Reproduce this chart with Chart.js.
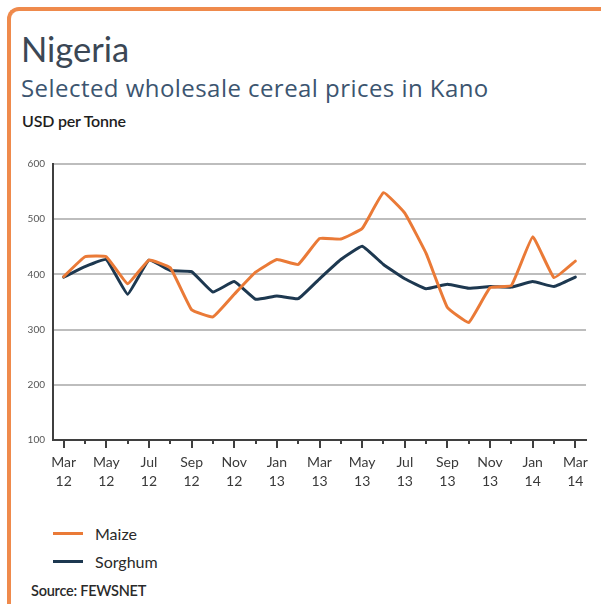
<!DOCTYPE html>
<html>
<head>
<meta charset="utf-8">
<script src="https://cdn.jsdelivr.net/npm/chart.js@4/dist/chart.umd.min.js"></script>
<style>
  html, body { margin: 0; padding: 0; background: #fff; }
  body { width: 601px; height: 607px; position: relative; overflow: hidden; font-family: Lato, "Open Sans", sans-serif; }
  .frame {
    position: absolute; left: 7px; top: 7px; width: 620px; height: 597px;
    border-top: 4px solid #ef8a4c; border-left: 4px solid #ef8a4c;
    border-radius: 12px 0 0 0; box-sizing: border-box;
  }
  .title { position: absolute; left: 21px; top: 32px; font-size: 34.5px; color: #3b4755; line-height: 1; }
  .subtitle { position: absolute; left: 21px; top: 75.5px; font-family: "Open Sans", sans-serif; font-size: 24px; letter-spacing: 0.45px; color: #3c5570; line-height: 1; white-space: nowrap; }
  .unit { position: absolute; left: 22px; top: 113px; font-size: 16px; color: #1e1e1e; line-height: 1; font-weight: 600; letter-spacing: -0.2px; }
  #chart { position: absolute; left: 0; top: 150px; }
  .legend { position: absolute; left: 53px; top: 519px; font-size: 16px; color: #2a2a2a; }
  .legend div { height: 28px; display: flex; align-items: center; }
  .legend span.sw { display: inline-block; width: 30px; height: 3px; margin-right: 12px; }
  .source { position: absolute; left: 31px; top: 583.5px; font-size: 14.5px; color: #2a2a2a; font-weight: 600; letter-spacing: -0.25px; line-height: 1; }
</style>
</head>
<body>
<div class="frame"></div>
<div class="title">Nigeria</div>
<div class="subtitle">Selected wholesale cereal prices in Kano</div>
<div class="unit">USD per Tonne</div>
<canvas id="chart" width="601" height="350"></canvas>
<div class="legend" id="legend"></div>
<div class="source">Source: FEWSNET</div>
<script>
// Monthly wholesale prices, Kano market (USD per tonne), Mar 2012 – Mar 2014
const months = ["Mar","Apr","May","Jun","Jul","Aug","Sep","Oct","Nov","Dec",
                "Jan","Feb","Mar","Apr","May","Jun","Jul","Aug","Sep","Oct","Nov","Dec",
                "Jan","Feb","Mar"];
const years = ["12","12","12","12","12","12","12","12","12","12",
               "13","13","13","13","13","13","13","13","13","13","13","13",
               "14","14","14"];
const maize = [396, 432, 432, 383, 426, 412, 336, 323, 364, 404,
               427, 418, 465, 464, 483, 548, 511, 438, 340, 313, 376, 380,
               468, 394, 424];
const sorghum = [395, 414, 427, 364, 426, 407, 405, 368, 387, 355,
                 361, 356, 392, 427, 451, 418, 392, 374, 382, 375, 378, 377,
                 387, 378, 395];
const yTicks = [100, 200, 300, 400, 500, 600];

const seriesNames = ["Maize", "Sorghum"];
const seriesColors = ["#ea7a37", "#1d3850"];

const labels = months.map((m, i) => [m, years[i]]);

// Short/long tick marks under the category axis (long ones under labelled months)
const axisTicks = {
  id: 'axisTicks',
  afterDraw(chart) {
    const x = chart.scales.x, ctx = chart.ctx, y0 = chart.chartArea.bottom;
    ctx.save();
    ctx.strokeStyle = '#3f3f3f';
    ctx.lineWidth = 2;
    for (let i = 0; i < labels.length; i++) {
      const px = Math.round(x.getPixelForValue(i));
      ctx.beginPath();
      ctx.moveTo(px, y0);
      ctx.lineTo(px, y0 + (i % 2 === 0 ? 8 : 4));
      ctx.stroke();
    }
    ctx.restore();
  }
};

const chart = new Chart(document.getElementById('chart'), {
  type: 'line',
  data: {
    labels: labels,
    datasets: [
      { label: seriesNames[0], data: maize, borderColor: seriesColors[0], backgroundColor: seriesColors[0],
        borderWidth: 3, pointRadius: 0, tension: 0.1, borderJoinStyle: 'round', borderCapStyle: 'round' },
      { label: seriesNames[1], data: sorghum, borderColor: seriesColors[1], backgroundColor: seriesColors[1],
        borderWidth: 3, pointRadius: 0, tension: 0.1, borderJoinStyle: 'round', borderCapStyle: 'round' }
    ]
  },
  options: {
    responsive: false,
    animation: false,
    devicePixelRatio: 1,
    layout: { padding: { left: 0, right: 11, top: 10, bottom: 0 } },
    plugins: { legend: { display: false }, tooltip: { enabled: false } },
    scales: {
      x: {
        offset: true,
        afterFit: s => { s.height = 60; },
        grid: { drawOnChartArea: false, drawTicks: false },
        border: { display: true, color: '#3f3f3f', width: 2 },
        ticks: {
          autoSkip: false, maxRotation: 0, padding: 13,
          color: '#3a3a3a', font: { family: 'Lato', size: 14, lineHeight: 1.38 },
          callback: (v, i) => (i % 2 === 0 ? labels[i] : '')
        }
      },
      y: {
        min: yTicks[0], max: yTicks[yTicks.length - 1],
        afterFit: s => { s.width = 53; },
        afterBuildTicks: s => { s.ticks = yTicks.map(v => ({ value: v })); },
        grid: { color: '#bdbdbd', lineWidth: 2, drawTicks: false },
        border: { display: true, color: '#3f3f3f', width: 2 },
        ticks: { padding: 8, color: '#555', font: { family: 'Lato', size: 10 } }
      }
    }
  },
  plugins: [axisTicks]
});

// Legend rows built from the chart's datasets
const legend = document.getElementById('legend');
chart.data.datasets.forEach(ds => {
  const row = document.createElement('div');
  const sw = document.createElement('span');
  sw.className = 'sw';
  sw.style.background = ds.borderColor;
  row.appendChild(sw);
  row.appendChild(document.createTextNode(ds.label));
  legend.appendChild(row);
});
</script>
</body>
</html>
